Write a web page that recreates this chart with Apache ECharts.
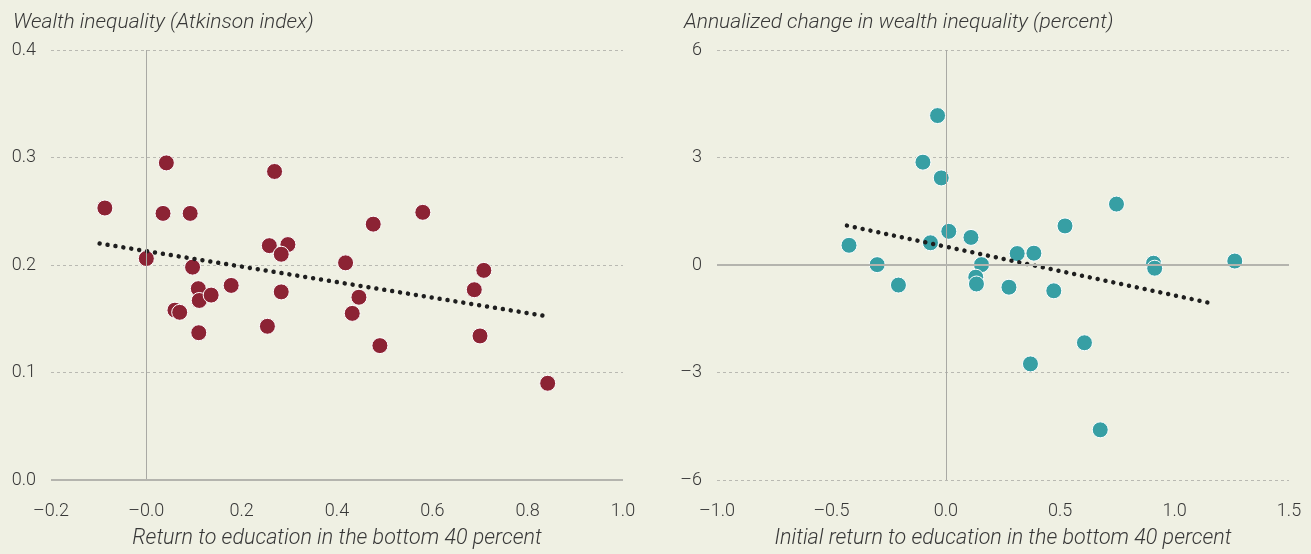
<!DOCTYPE html>
<html>
<head>
<meta charset="utf-8">
<script src="https://cdn.jsdelivr.net/npm/echarts@6/dist/echarts.min.js"></script>
<style>
  html, body { margin: 0; padding: 0; background: #EFF0E3; }
  #main { width: 1311px; height: 554px; }
</style>
</head>
<body>
<div id="main"></div>
<script>
// left panel: return to education vs Atkinson index
var leftX = [-0.087, 0.042, 0.035, 0.092, 0.269, 0.258, 0.297, 0.283, 0.0, 0.097, 0.418, 0.476, 0.58, 0.708,
  0.178, 0.109, 0.111, 0.136, 0.060, 0.070, 0.110, 0.283, 0.254, 0.446, 0.432, 0.49, 0.688, 0.70, 0.842];
var leftY = [0.253, 0.295, 0.248, 0.248, 0.287, 0.218, 0.219, 0.210, 0.206, 0.198, 0.202, 0.238, 0.249, 0.195,
  0.181, 0.178, 0.167, 0.172, 0.158, 0.156, 0.137, 0.175, 0.143, 0.170, 0.155, 0.125, 0.177, 0.134, 0.090];
var leftTrendX = [-0.098, 0.845];
var leftTrendY = [0.220, 0.152];

// right panel: initial return vs annualized change
var rightX = [-0.036, -0.10, -0.02, 0.746, 0.521, 0.013, 0.11, -0.423, -0.067, 0.312, 0.385, -0.30, 0.156, 0.908,
  0.913, 1.263, -0.207, 0.131, 0.134, 0.276, 0.472, 0.606, 0.370, 0.675];
var rightY = [4.17, 2.87, 2.43, 1.70, 1.09, 0.94, 0.77, 0.55, 0.62, 0.32, 0.33, 0.01, 0.01, 0.05,
  -0.09, 0.11, -0.56, -0.34, -0.53, -0.62, -0.72, -2.17, -2.76, -4.60];
var rightTrendX = [-0.432, 1.162];
var rightTrendY = [1.10, -1.07];

var leftXTicks = ['–0.2', '–0.0', '0.2', '0.4', '0.6', '0.8', '1.0'];
var leftYTicks = ['0.0', '0.1', '0.2', '0.3', '0.4'];
var rightXTicks = ['–1.0', '–0.5', '0.0', '0.5', '1.0', '1.5'];
var rightYTicks = ['–6', '–3', '0', '3', '6'];

var font = 'Roboto';
var textColor = '#383838';
var gridColor = '#b9b9b2';

function pairs(xs, ys) {
  return xs.map(function (x, i) { return [x, ys[i]]; });
}
function tickFmt(arr, min, step) {
  return function (v) { return arr[Math.round((v - min) / step)]; };
}
function valueAxis(idx, min, max, step, labels, isX, name) {
  var ax = {
    type: 'value', gridIndex: idx, min: min, max: max, interval: step,
    axisLine: { show: false }, axisTick: { show: false },
    axisLabel: {
      formatter: tickFmt(labels, min, step), color: textColor,
      fontFamily: font, fontWeight: 300, fontSize: 18,
      margin: isX ? 22 : 15
    },
    splitLine: isX ? { show: false } : { show: true, lineStyle: { color: gridColor, type: [3, 3], width: 1 } }
  };
  if (name) {
    ax.name = name;
    ax.nameLocation = 'middle';
    ax.nameGap = 48;
    ax.nameTextStyle = { color: textColor, fontFamily: font, fontWeight: 300, fontStyle: 'italic', fontSize: 21.5 };
  }
  return ax;
}
function zeroLines(idx) {
  return {
    type: 'scatter', xAxisIndex: idx, yAxisIndex: idx, data: [], z: 1, silent: true,
    markLine: {
      silent: true, symbol: ['none', 'none'], label: { show: false }, animation: false,
      lineStyle: { color: '#a9a9a4', type: 'solid', width: 1 },
      data: [{ xAxis: 0 }, { yAxis: 0, lineStyle: { width: 2, color: '#b4b4ae' } }]
    }
  };
}
function dots(idx, xs, ys, color) {
  return {
    type: 'scatter', xAxisIndex: idx, yAxisIndex: idx, data: pairs(xs, ys), z: 3,
    symbolSize: 16,
    itemStyle: { color: color, borderColor: '#ffffff', borderWidth: 1, opacity: 1 }
  };
}
function trend(idx, xs, ys) {
  return {
    type: 'line', xAxisIndex: idx, yAxisIndex: idx, data: pairs(xs, ys), z: 4,
    symbol: 'none', silent: true,
    lineStyle: { color: '#1e1e1e', width: 4.5, type: [0.01, 8], cap: 'round' }
  };
}

var chart = echarts.init(document.getElementById('main'), null, { renderer: 'canvas' });
chart.setOption({
  backgroundColor: '#EFF0E3',
  animation: false,
  title: [
    { text: 'Wealth inequality (Atkinson index)', left: 8, top: 7,
      textStyle: { color: textColor, fontFamily: font, fontWeight: 300, fontStyle: 'italic', fontSize: 21 } },
    { text: 'Annualized change in wealth inequality (percent)', left: 679, top: 7,
      textStyle: { color: textColor, fontFamily: font, fontWeight: 300, fontStyle: 'italic', fontSize: 21 } }
  ],
  grid: [
    { left: 51, top: 50, width: 572, height: 430, outerBoundsMode: 'none', containLabel: false },
    { left: 717, top: 50, width: 572, height: 430, outerBoundsMode: 'none', containLabel: false }
  ],
  xAxis: [
    valueAxis(0, -0.2, 1.0, 0.2, leftXTicks, true, 'Return to education in the bottom 40 percent'),
    valueAxis(1, -1.0, 1.5, 0.5, rightXTicks, true, 'Initial return to education in the bottom 40 percent')
  ],
  yAxis: [
    valueAxis(0, 0, 0.4, 0.1, leftYTicks, false),
    valueAxis(1, -6, 6, 3, rightYTicks, false)
  ],
  series: [
    zeroLines(0),
    dots(0, leftX, leftY, '#8C2334'),
    trend(0, leftTrendX, leftTrendY),
    zeroLines(1),
    dots(1, rightX, rightY, '#379FA4'),
    trend(1, rightTrendX, rightTrendY)
  ]
});
</script>
</body>
</html>
